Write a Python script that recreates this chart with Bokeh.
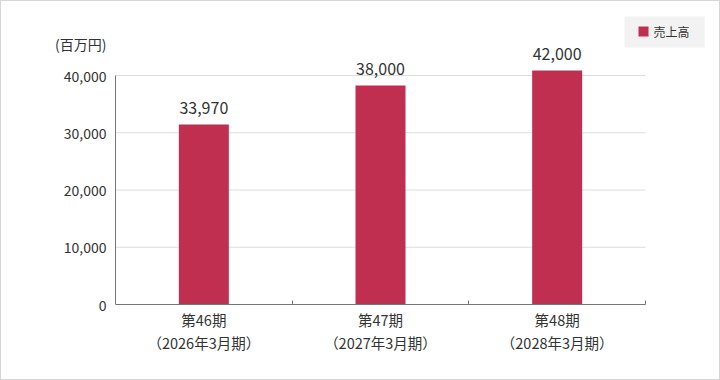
from bokeh.plotting import figure
from bokeh.models import FixedTicker, Range1d, ColumnDataSource, NumeralTickFormatter
from bokeh.core.properties import value
from bokeh.embed import file_html
from bokeh.resources import INLINE

# ---- data ----
periods = ["第46期\n（2026年3月期）", "第47期\n（2027年3月期）", "第48期\n（2028年3月期）"]
bar_heights = [31440, 38250, 40870]          # bar tops as drawn in the picture
value_labels = ["33,970", "38,000", "42,000"]
y_ticks = [0, 10000, 20000, 30000, 40000]
series_name = "売上高"
unit_label = "(百万円)"

FONT = "Noto Sans CJK JP"
TEXT = "#333333"
AXIS = "#767676"
GRID = "#dddddd"
BAR = "#c02f50"
LEGEND_BG = "#f2f2f2"

n = len(periods)
x_pos = [i + 0.5 for i in range(n)]
src = ColumnDataSource(dict(x=x_pos, top=bar_heights, label=value_labels))

W, H = 720, 380                 # element size; canvas sits 1px inside the page border
px_per_unit = 530 / n
frame_left, frame_right = 112, 713   # canvas px
frame_top, frame_bottom = 5, 303
x_start = -2 / px_per_unit
x_end = x_start + (frame_right - frame_left) / px_per_unit
y_scale = 229 / 40000
y_end = (frame_bottom - frame_top) / y_scale
unit_y = (304 - 43) / y_scale


def X(px):   # page pixel -> data x
    return (px - 115) / px_per_unit


def Y(py):   # page pixel -> data y
    return (304 - py) / y_scale


p = figure(width=W, height=H, output_backend="svg", toolbar_location=None,
           x_range=Range1d(x_start, x_end), y_range=Range1d(0, y_end),
           min_border_left=frame_left, min_border_right=W - frame_right,
           min_border_top=frame_top, min_border_bottom=H - frame_bottom)
p.outline_line_color = None
p.background_fill_color = "white"
p.border_fill_color = "white"
p.xgrid.visible = False
p.ygrid.visible = False
p.styles = {"border": "1px solid #d6d6d6", "box-sizing": "border-box"}

# horizontal grid lines limited to the category span
p.segment(x0=0, x1=n, y0=y_ticks[1:], y1=y_ticks[1:], line_color=GRID, line_width=1)
# value-axis line (0 .. top tick)
p.segment(x0=[0], x1=[0], y0=[y_ticks[0]], y1=[y_ticks[-1]], line_color=AXIS, line_width=1)

bars = p.vbar(x="x", top="top", width=50 / px_per_unit, source=src,
              fill_color=BAR, line_color=None)

p.text(x="x", y="top", text="label", source=src, text_align="center",
       text_baseline="alphabetic", y_offset=-17, text_font=value(FONT),
       text_font_size="16px", text_color=TEXT)

# x axis
xa = p.xaxis[0]
xa.bounds = (0, n)
xa.ticker = FixedTicker(ticks=x_pos, minor_ticks=list(range(1, n + 1)))
xa.major_label_overrides = {x: lab for x, lab in zip(x_pos, periods)}
xa.major_tick_in = 0
xa.major_tick_out = 0
xa.minor_tick_in = 4
xa.minor_tick_out = 0
xa.axis_line_color = AXIS
xa.minor_tick_line_color = AXIS
xa.major_label_text_font = FONT
xa.major_label_text_font_size = "14.5px"
xa.major_label_text_color = TEXT
xa.major_label_text_line_height = 1.1
xa.major_label_standoff = 4

# y axis (unit caption sits as the top label)
ya = p.yaxis[0]
ya.ticker = FixedTicker(ticks=y_ticks + [unit_y], minor_ticks=[])
ya.formatter = NumeralTickFormatter(format="0,0")
ya.major_label_overrides = {unit_y: unit_label}
ya.major_tick_in = 0
ya.major_tick_out = 0
ya.minor_tick_in = 0
ya.minor_tick_out = 0
ya.axis_line_color = None
ya.major_label_text_font = FONT
ya.major_label_text_font_size = "14px"
ya.major_label_text_color = TEXT
ya.major_label_standoff = 7

# legend box (top right)
p.quad(left=[X(624)], right=[X(704)], top=[Y(16)], bottom=[Y(47)],
       fill_color=LEGEND_BG, line_color=None)
p.quad(left=[X(638)], right=[X(648)], top=[Y(26)], bottom=[Y(36)],
       fill_color=BAR, line_color=None)
p.text(x=[X(653)], y=[Y(31)], text=[series_name], text_align="left",
       text_baseline="middle", text_font=value(FONT), text_font_size="12px",
       text_color=TEXT)

open("out.html", "w").write(file_html(p, INLINE))
